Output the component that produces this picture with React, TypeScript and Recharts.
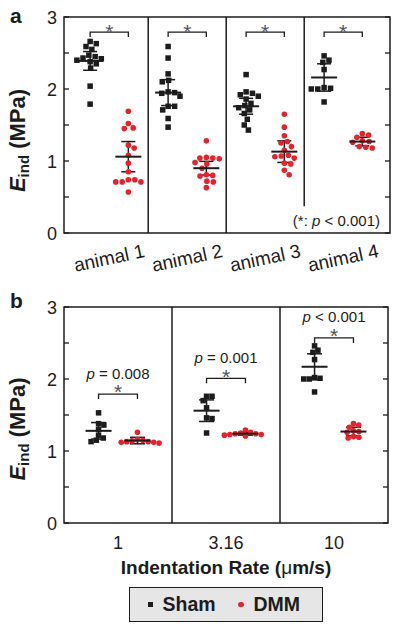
import React from 'react';
import { ScatterChart, Scatter, XAxis, YAxis, ReferenceLine, ReferenceArea, ErrorBar } from 'recharts';

// ---------- Panel a data (per animal) ----------
const animals = ['animal 1', 'animal 2', 'animal 3', 'animal 4'];
const shamByAnimal = [
  [2.66, 2.63, 2.59, 2.55, 2.47, 2.45, 2.43, 2.42, 2.40, 2.38, 2.35, 2.29, 2.04, 1.79],
  [2.59, 2.43, 2.21, 2.12, 2.10, 1.96, 1.95, 1.94, 1.90, 1.76, 1.76, 1.71, 1.59, 1.47],
  [2.20, 1.96, 1.94, 1.92, 1.90, 1.86, 1.80, 1.77, 1.74, 1.71, 1.66, 1.58, 1.50, 1.43],
  [2.46, 2.40, 2.37, 2.27, 2.02, 2.00, 2.01, 2.00, 1.82],
];
const dmmByAnimal = [
  [1.69, 1.52, 1.46, 1.45, 1.22, 1.18, 1.08, 0.97, 0.85, 0.74, 0.74, 0.71, 0.71, 0.71, 0.57],
  [1.28, 1.04, 1.04, 1.03, 1.05, 0.98, 0.96, 0.90, 0.81, 0.80, 0.79, 0.71, 0.72, 0.63],
  [1.65, 1.47, 1.35, 1.27, 1.25, 1.20, 1.15, 1.08, 1.07, 1.06, 1.04, 0.97, 0.96, 0.87, 0.81],
  [1.38, 1.36, 1.33, 1.28, 1.27, 1.26, 1.20, 1.18, 1.19],
];
const shamMeanA = [2.39, 1.95, 1.76, 2.16];
const shamErrA = [0.13, 0.18, 0.11, 0.19];
const dmmMeanA = [1.06, 0.90, 1.13, 1.27];
const dmmErrA = [0.21, 0.095, 0.15, 0.06];
const noteA = ['(*: ', 'p', ' < 0.001)'];

// ---------- Panel b data (per indentation rate) ----------
const rates = ['1', '3.16', '10'];
const shamByRate = [
  [1.53, 1.38, 1.36, 1.30, 1.22, 1.18, 1.15, 1.13],
  [1.76, 1.76, 1.70, 1.60, 1.46, 1.45, 1.25],
  [2.46, 2.40, 2.37, 2.27, 2.02, 2.00, 2.01, 2.00, 1.82],
];
const dmmByRate = [
  [1.26, 1.16, 1.15, 1.14, 1.13, 1.13, 1.12, 1.12, 1.11],
  [1.29, 1.26, 1.25, 1.24, 1.24, 1.23, 1.23, 1.22, 1.21],
  [1.38, 1.36, 1.33, 1.28, 1.27, 1.26, 1.20, 1.18, 1.19],
];
const shamMeanB = [1.28, 1.56, 2.17];
const shamErrB = [0.115, 0.15, 0.18];
const dmmMeanB = [1.145, 1.24, 1.27];
const dmmErrB = [0.045, 0.02, 0.06];
const pLabelsB = ['p = 0.008', 'p = 0.001', 'p < 0.001'];
const seriesNames = ['Sham', 'DMM'];

// ---------- styling / layout ----------
const FONT = '"Liberation Sans", Arial, Helvetica, sans-serif';
const INK = '#1c1c1c';
const RED = '#e8212b';
const STAR = '#555';
const Y_TICKS = [0, 0.5, 1, 1.5, 2, 2.5, 3];
const XA_DOMAIN: [number, number] = [0.42, 4.6];
const XB_DOMAIN: [number, number] = [0.5, 3.5];
const OFF_A = 0.245;
const OFF_B = 0.18;
const PX_Y = 72;
const PX_XA = 326 / (XA_DOMAIN[1] - XA_DOMAIN[0]);
const PX_XB = 324 / (XB_DOMAIN[1] - XB_DOMAIN[0]);

// deterministic beeswarm: pixel offsets so markers don't overlap
function swarmOffsets(vals: number[], d: number): number[] {
  const order = vals.map((_, i) => i).sort((a, b) => vals[b] - vals[a]);
  const placed: { px: number; py: number }[] = [];
  const out = new Array(vals.length).fill(0);
  for (const i of order) {
    const py = vals[i] * PX_Y;
    const iv: [number, number][] = [];
    for (const p of placed) {
      const dy = Math.abs(p.py - py);
      if (dy < d) {
        const w = Math.sqrt(d * d - dy * dy);
        iv.push([p.px - w, p.px + w]);
      }
    }
    const cands = [0];
    iv.forEach(([a, b]) => cands.push(a, b));
    cands.sort((a, b) => Math.abs(a) - Math.abs(b) || b - a);
    let best = 0;
    for (const c of cands) {
      if (iv.every(([a, b]) => c <= a + 1e-6 || c >= b - 1e-6)) { best = c; break; }
    }
    out[i] = best;
    placed.push({ px: best, py });
  }
  return out;
}

function points(groups: number[][], off: number, pxPerX: number, d: number) {
  const pts: { x: number; y: number }[] = [];
  groups.forEach((vals, gi) => {
    const o = swarmOffsets(vals, d);
    vals.forEach((v, i) => pts.push({ x: gi + 1 + off + o[i] / pxPerX, y: v }));
  });
  return pts;
}
function means(m: number[], e: number[], off: number) {
  return m.map((v, i) => ({ x: i + 1 + off, y: v, err: e[i] }));
}

const shamPtsA = points(shamByAnimal, -OFF_A, PX_XA, 6.5);
const dmmPtsA = points(dmmByAnimal, OFF_A, PX_XA, 6.5);
const shamPtsB = points(shamByRate, -OFF_B, PX_XB, 5.5);
const dmmPtsB = points(dmmByRate, OFF_B, PX_XB, 5.5);

const Square = (p: any) => <rect x={p.cx - 2.75} y={p.cy - 2.75} width={5.5} height={5.5} fill={INK} />;
const Dot = (p: any) => <circle cx={p.cx} cy={p.cy} r={2.8} fill={RED} />;
const MeanLine = (p: any) => <line x1={p.cx - 13} x2={p.cx + 13} y1={p.cy} y2={p.cy} stroke={INK} strokeWidth={2} />;

const LeftTick = (p: any) => {
  const ax = p.x + 7;
  const v = p.payload.value;
  return (
    <g>
      <line x1={ax} x2={ax + 5} y1={p.y} y2={p.y} stroke={INK} strokeWidth={1.3} />
      {Number.isInteger(v) ? (
        <text x={p.x} y={p.y + 6.5} textAnchor="end" fontSize={18} fontFamily={FONT} fill={INK}>{v}</text>
      ) : null}
    </g>
  );
};
const RightTick = (p: any) => <line x1={p.x - 5} x2={p.x} y1={p.y} y2={p.y} stroke={INK} strokeWidth={1.3} />;

const AnimalTick = (p: any) => {
  const label = animals[p.payload.value - 1];
  const cy = p.y + 25;
  return (
    <text x={p.x} y={cy + 6.5} textAnchor="middle" fontSize={19} fontFamily={FONT} fill={INK}
      transform={`rotate(-12, ${p.x}, ${cy})`}>{label}</text>
  );
};
const RateTick = (p: any) => (
  <text x={p.x} y={p.y + 19 + 6.5} textAnchor="middle" fontSize={18} fontFamily={FONT} fill={INK}>
    {rates[p.payload.value - 1]}
  </text>
);

const AxisTitle = (p: any) => (
  <g>
    <text x={10} y={p.letterY} fontSize={21} fontWeight="bold" fontFamily={FONT} fill={INK}>{p.letter}</text>
    <text transform={`translate(25, ${p.cy}) rotate(-90)`} textAnchor="middle" fontSize={22} fontWeight="bold" fontFamily={FONT} fill={INK}>
      <tspan fontStyle="italic">E</tspan>
      <tspan fontSize={15} dy={4}>ind</tspan>
      <tspan dy={-4}> (MPa)</tspan>
    </text>
  </g>
);

const XTitle = () => (
  <text x={226} y={284} textAnchor="middle" fontSize={19} fontWeight="bold" fontFamily={FONT} fill={INK}>
    Indentation Rate (<tspan fontWeight="normal">μ</tspan>m/s)
  </text>
);

const NoteLabel = (p: any) => {
  const vb = p.viewBox || { x: 64, y: 17, width: 326, height: 216 };
  return (
    <text x={vb.x + vb.width - 10} y={vb.y + vb.height - 7.5} textAnchor="end" fontSize={15} fontFamily={FONT} fill={INK}>
      {noteA[0]}<tspan fontStyle="italic">{noteA[1]}</tspan>{noteA[2]}
    </text>
  );
};

const bracket = (starDy: number, pLabel?: string) => (p: any) => {
  const { x1, y1, x2, y2 } = p;
  const cx = (x1 + x2) / 2;
  return (
    <g>
      <path d={`M${x1},${y1 + 5}V${y1}H${x2}V${y2 + 5}`} fill="none" stroke={INK} strokeWidth={1.3} />
      <text x={cx} y={y1 + starDy} textAnchor="middle" fontSize={21} fontFamily={FONT} fill={STAR}>*</text>
      {pLabel ? (
        <text x={cx} y={y1 - 15.5} textAnchor="middle" fontSize={15} fontFamily={FONT} fill={INK}>
          <tspan fontStyle="italic">{pLabel.slice(0, 1)}</tspan>{pLabel.slice(1)}
        </text>
      ) : null}
    </g>
  );
};

const bracketLevelsB = [1.79, 2.01, 2.57];

function ChartA() {
  return (
    <ScatterChart width={400} height={290} margin={{ top: 17, right: 9, bottom: 17, left: 14 }}>
      <XAxis type="number" dataKey="x" domain={XA_DOMAIN} allowDataOverflow ticks={[1, 2, 3, 4]} interval={0}
        tickSize={0} tickMargin={0} axisLine={false} tickLine={false} height={40} tick={<AnimalTick />} />
      <YAxis type="number" dataKey="y" domain={[0, 3]} allowDataOverflow ticks={Y_TICKS} interval={0}
        tickSize={0} tickMargin={7} axisLine={false} tickLine={false} width={50} tick={<LeftTick />}
        label={<AxisTitle letter="a" letterY={23} cy={140.5} />} />
      <YAxis yAxisId="r" orientation="right" type="number" domain={[0, 3]} allowDataOverflow ticks={Y_TICKS} interval={0}
        tickSize={0} tickMargin={0} axisLine={false} tickLine={false} width={1} tick={<RightTick />} />
      <ReferenceArea x1={XA_DOMAIN[0]} x2={XA_DOMAIN[1]} y1={0} y2={3} fill="none" fillOpacity={0} stroke={INK} strokeWidth={1.5}
        label={<NoteLabel />} />
      <ReferenceLine x={1.5} stroke={INK} strokeWidth={1.5} />
      <ReferenceLine x={2.5} stroke={INK} strokeWidth={1.5} />
      <ReferenceLine segment={[{ x: 3.5, y: 0.37 }, { x: 3.5, y: 3 }]} stroke={INK} strokeWidth={1.5} />
      {animals.map((a, i) => (
        <ReferenceLine key={a} segment={[{ x: i + 1 - OFF_A, y: 2.79 }, { x: i + 1 + OFF_A, y: 2.79 }]} shape={bracket(6.8)} />
      ))}
      <Scatter name={seriesNames[0]} data={shamPtsA} shape={Square} isAnimationActive={false} />
      <Scatter name={seriesNames[1]} data={dmmPtsA} shape={Dot} isAnimationActive={false} />
      <Scatter data={means(shamMeanA, shamErrA, -OFF_A)} shape={MeanLine} isAnimationActive={false}>
        <ErrorBar dataKey="err" direction="y" width={7} stroke={INK} strokeWidth={1.5} isAnimationActive={false} />
      </Scatter>
      <Scatter data={means(dmmMeanA, dmmErrA, OFF_A)} shape={MeanLine} isAnimationActive={false}>
        <ErrorBar dataKey="err" direction="y" width={7} stroke={INK} strokeWidth={1.5} isAnimationActive={false} />
      </Scatter>
    </ScatterChart>
  );
}

function ChartB() {
  return (
    <ScatterChart width={400} height={300} margin={{ top: 17, right: 11, bottom: 27, left: 14 }}>
      <XAxis type="number" dataKey="x" domain={XB_DOMAIN} allowDataOverflow ticks={[1, 2, 3]} interval={0}
        tickSize={0} tickMargin={0} axisLine={false} tickLine={false} height={40} tick={<RateTick />}
        label={<XTitle />} />
      <YAxis type="number" dataKey="y" domain={[0, 3]} allowDataOverflow ticks={Y_TICKS} interval={0}
        tickSize={0} tickMargin={7} axisLine={false} tickLine={false} width={50} tick={<LeftTick />}
        label={<AxisTitle letter="b" letterY={18} cy={139} />} />
      <YAxis yAxisId="r" orientation="right" type="number" domain={[0, 3]} allowDataOverflow ticks={Y_TICKS} interval={0}
        tickSize={0} tickMargin={0} axisLine={false} tickLine={false} width={1} tick={<RightTick />} />
      <ReferenceArea x1={XB_DOMAIN[0]} x2={XB_DOMAIN[1]} y1={0} y2={3} fill="none" fillOpacity={0} stroke={INK} strokeWidth={1.5} />
      <ReferenceLine x={1.5} stroke={INK} strokeWidth={1.5} />
      <ReferenceLine x={2.5} stroke={INK} strokeWidth={1.5} />
      {rates.map((r, i) => (
        <ReferenceLine key={r} segment={[{ x: i + 1 - OFF_B, y: bracketLevelsB[i] }, { x: i + 1 + OFF_B, y: bracketLevelsB[i] }]}
          shape={bracket(5.3, pLabelsB[i])} />
      ))}
      <Scatter name={seriesNames[0]} data={shamPtsB} shape={Square} isAnimationActive={false} />
      <Scatter name={seriesNames[1]} data={dmmPtsB} shape={Dot} isAnimationActive={false} />
      <Scatter data={means(shamMeanB, shamErrB, -OFF_B)} shape={MeanLine} isAnimationActive={false}>
        <ErrorBar dataKey="err" direction="y" width={7.5} stroke={INK} strokeWidth={1.5} isAnimationActive={false} />
      </Scatter>
      <Scatter data={means(dmmMeanB, dmmErrB, OFF_B)} shape={MeanLine} isAnimationActive={false}>
        <ErrorBar dataKey="err" direction="y" width={7.5} stroke={INK} strokeWidth={1.5} isAnimationActive={false} />
      </Scatter>
    </ScatterChart>
  );
}

function LegendBox() {
  const txt: React.CSSProperties = { position: 'absolute', top: 5, fontSize: 19.5, fontWeight: 'bold', fontFamily: FONT, color: INK, lineHeight: '22px' };
  return (
    <div style={{ position: 'absolute', left: 129, top: 587, width: 194, height: 35, boxSizing: 'border-box', border: `1.5px solid ${INK}`, background: '#e6e6e6' }}>
      <div style={{ position: 'absolute', left: 17.5, top: 13.5, width: 5.5, height: 5.5, background: INK }} />
      <div style={{ ...txt, left: 32.5 }}>{seriesNames[0]}</div>
      <div style={{ position: 'absolute', left: 108, top: 13.5, width: 5.6, height: 5.6, borderRadius: '50%', background: RED }} />
      <div style={{ ...txt, left: 123.5 }}>{seriesNames[1]}</div>
    </div>
  );
}

export default function App() {
  return (
    <div style={{ position: 'absolute', left: 0, top: 0, width: 400, height: 631, background: '#fff', fontFamily: FONT, overflow: 'hidden' }}>
      <div style={{ position: 'absolute', left: 0, top: 0 }}><ChartA /></div>
      <div style={{ position: 'absolute', left: 0, top: 290 }}><ChartB /></div>
      <LegendBox />
    </div>
  );
}
